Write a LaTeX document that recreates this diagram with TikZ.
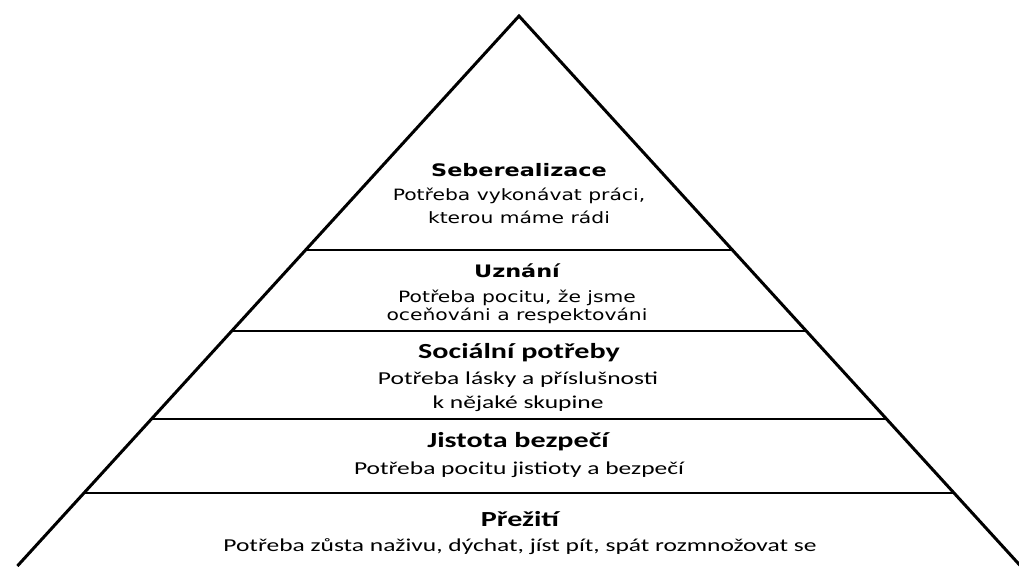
\documentclass[tikz,border=0pt]{standalone}
\usepackage{fontspec}
\newfontfamily\dvfont[FakeStretch=1.3]{DejaVu Sans}
\newfontfamily\clfont[FakeStretch=1.4]{Carlito}
\begin{document}
\begin{tikzpicture}[x=1pt,y=-1pt,
  side/.style={line width=3pt,line join=miter},
  tier/.style={line width=2pt},
  dvtitle/.style={anchor=base,inner sep=0pt,font=\dvfont\bfseries\fontsize{17.2}{20}\selectfont},
  dvtext/.style={anchor=base,inner sep=0pt,font=\dvfont\fontsize{15.6}{18}\selectfont},
  cltitle/.style={anchor=base,inner sep=0pt,font=\clfont\bfseries\fontsize{21.5}{24}\selectfont},
  cltext/.style={anchor=base,inner sep=0pt,font=\clfont\fontsize{18.2}{21}\selectfont}]
\useasboundingbox (0,0) rectangle (1019,566);
\coordinate (apex) at (519,16);
\coordinate (bl) at (17.4,566);
\coordinate (br) at (1020.6,566);
\coordinate (l1) at (305.6,250); \coordinate (r1) at (732.4,250);
\coordinate (l2) at (231.7,331); \coordinate (r2) at (806.3,331);
\coordinate (l3) at (151.5,419); \coordinate (r3) at (886.5,419);
\coordinate (l4) at (84,493);    \coordinate (r4) at (954,493);
\draw[tier] (l1) -- (r1);
\draw[tier] (l2) -- (r2);
\draw[tier] (l3) -- (r3);
\draw[tier] (l4) -- (r4);
\draw[side] (bl) -- (apex) -- (br);
% tier 1
\node[dvtitle] (t1) at (519,176) {Seberealizace};
\node[dvtext] (t1a) at (519,200) {Potřeba vykonávat práci,};
\node[dvtext] (t1b) at (519,223) {kterou máme rádi};
% tier 2
\node[dvtitle] (t2) at (517,277) {Uznání};
\node[dvtext] (t2a) at (517,302) {Potřeba pocitu, že jsme};
\node[dvtext] (t2b) at (517,320) {oceňováni a respektováni};
% tier 3
\node[cltitle] (t3) at (519,358) {Sociální potřeby};
\node[cltext] (t3a) at (518,384) {Potřeba lásky a příslušnosti};
\node[cltext] (t3b) at (518,408) {k nějaké skupine};
% tier 4
\node[cltitle] (t4) at (518,447) {Jistota bezpečí};
\node[cltext] (t4a) at (519,474) {Potřeba pocitu jistioty a bezpečí};
% tier 5
\node[cltitle] (t5) at (520,526) {Přežití};
\node[cltext] (t5a) at (520,551) {Potřeba zůsta naživu, dýchat, jíst pít, spát rozmnožovat se};
\end{tikzpicture}
\end{document}
